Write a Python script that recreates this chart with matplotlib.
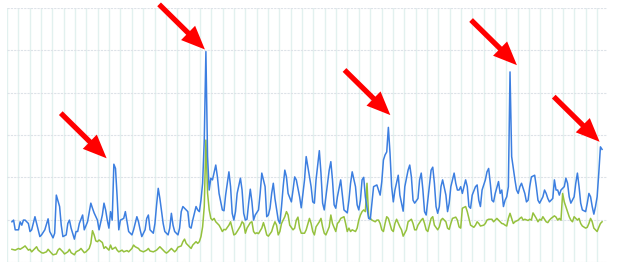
import matplotlib
matplotlib.use('Agg')
import matplotlib.pyplot as plt
import numpy as np

# daily series (day of year, value)
blue_days = [3, 4, 5, 7, 8, 9, 10, 11, 13, 14, 15, 17, 19, 20, 21, 23, 25, 26, 28, 29,
             30, 32, 33, 34, 36, 37, 38, 39, 41, 42, 43, 44, 46, 47, 49, 51, 52, 53, 55, 56,
             58, 59, 60, 61, 62, 63, 64, 65, 66, 67, 68, 69, 71, 72, 73, 74, 76, 77, 79, 80,
             81, 82, 84, 85, 86, 87, 89, 90, 91, 92, 93, 95, 96, 98, 99, 100, 101, 102, 104, 105,
             106, 107, 108, 110, 111, 112, 113, 115, 116, 117, 118, 119, 120, 121, 122, 123, 124, 125, 127, 128,
             129, 131, 132, 133, 135, 136, 137, 138, 139, 140, 142, 143, 144, 145, 146, 147, 148, 149, 150, 151,
             153, 154, 155, 157, 158, 159, 160, 161, 162, 163, 165, 166, 167, 168, 169, 170, 171, 173, 174, 175,
             176, 178, 179, 181, 182, 183, 185, 186, 187, 188, 190, 191, 192, 193, 194, 196, 197, 198, 199, 200,
             201, 203, 204, 205, 207, 208, 209, 210, 212, 213, 214, 215, 216, 217, 218, 220, 221, 222, 223, 225,
             226, 227, 228, 229, 230, 231, 232, 233, 234, 235, 236, 238, 239, 241, 242, 244, 245, 246, 247, 248,
             250, 251, 252, 253, 254, 255, 256, 258, 259, 260, 261, 262, 263, 264, 265, 267, 268, 269, 270, 272,
             273, 274, 275, 276, 277, 279, 280, 281, 282, 283, 285, 286, 287, 288, 289, 291, 292, 293, 294, 295,
             296, 297, 299, 300, 301, 302, 303, 304, 305, 306, 307, 309, 310, 311, 312, 313, 315, 316, 317, 318,
             319, 321, 322, 323, 324, 326, 327, 328, 329, 330, 332, 333, 334, 335, 336, 337, 339, 340, 341, 342,
             343, 345, 346, 347, 348, 349, 350, 352, 353, 354, 355, 356, 357, 358, 359, 360, 361, 362]
blue_vals = [95, 99, 76, 76, 95, 87, 99, 99, 91, 72, 76, 107, 76, 60, 64, 76, 102, 72, 57, 68,
             158, 131, 87, 60, 64, 91, 99, 80, 54, 72, 72, 91, 111, 76, 95, 139, 127, 116, 99, 76,
             111, 139, 123, 99, 80, 119, 99, 231, 221, 154, 76, 99, 103, 119, 95, 72, 64, 76, 107, 95,
             76, 60, 76, 103, 111, 76, 68, 91, 135, 174, 150, 91, 72, 64, 80, 115, 87, 72, 64, 80,
             119, 131, 127, 119, 83, 80, 99, 131, 123, 119, 146, 186, 288, 497, 249, 170, 198, 194, 229, 201,
             162, 123, 121, 158, 213, 178, 115, 99, 119, 162, 198, 170, 115, 99, 101, 139, 172, 142, 99, 111,
             123, 162, 210, 178, 107, 111, 127, 162, 186, 150, 99, 91, 131, 178, 217, 201, 162, 142, 170, 201,
             194, 154, 128, 194, 249, 225, 178, 142, 139, 194, 263, 210, 139, 123, 154, 217, 237, 194, 135, 127,
             154, 194, 158, 123, 116, 146, 186, 213, 178, 135, 123, 146, 194, 200, 154, 103, 101, 139, 178, 182,
             170, 158, 190, 241, 253, 260, 318, 257, 178, 142, 170, 205, 158, 120, 178, 217, 229, 201, 146, 139,
             150, 194, 210, 170, 119, 111, 146, 217, 224, 186, 131, 115, 131, 178, 194, 158, 119, 139, 178, 210,
             186, 170, 170, 178, 162, 194, 178, 131, 127, 158, 178, 182, 146, 131, 170, 194, 213, 221, 186, 146,
             142, 162, 190, 162, 170, 131, 146, 154, 178, 449, 249, 194, 170, 162, 178, 186, 162, 142, 146, 178,
             201, 205, 178, 146, 139, 154, 170, 162, 150, 142, 150, 194, 170, 170, 158, 170, 178, 198, 186, 154,
             139, 154, 186, 210, 178, 139, 123, 119, 139, 162, 154, 131, 113, 131, 154, 210, 272, 266]

green_days = [3, 5, 7, 8, 10, 11, 13, 14, 15, 17, 18, 19, 21, 22, 24, 25, 27, 28, 30, 31,
              32, 34, 35, 37, 38, 39, 41, 42, 44, 45, 47, 48, 50, 51, 52, 53, 54, 55, 56, 58,
              59, 60, 62, 63, 64, 66, 67, 68, 70, 71, 73, 74, 76, 77, 78, 80, 81, 83, 85, 86,
              87, 89, 91, 92, 93, 94, 96, 97, 98, 100, 101, 102, 103, 104, 106, 107, 108, 109, 111, 112,
              113, 115, 116, 117, 118, 119, 120, 121, 122, 123, 124, 125, 126, 127, 129, 130, 131, 132, 133, 135,
              136, 137, 138, 139, 140, 142, 143, 144, 145, 146, 148, 149, 150, 151, 152, 153, 155, 156, 157, 158,
              159, 161, 162, 163, 164, 165, 166, 167, 169, 170, 171, 172, 174, 175, 176, 177, 178, 179, 181, 182,
              184, 185, 186, 187, 188, 190, 191, 192, 193, 194, 196, 197, 198, 200, 201, 202, 203, 205, 206, 207,
              208, 209, 210, 212, 213, 214, 215, 216, 217, 218, 219, 220, 221, 222, 224, 225, 226, 227, 228, 229,
              230, 231, 232, 234, 235, 236, 237, 239, 240, 241, 243, 244, 246, 247, 248, 249, 250, 252, 253, 254,
              255, 256, 257, 258, 259, 260, 262, 263, 264, 265, 267, 268, 269, 270, 271, 273, 274, 275, 276, 277,
              279, 280, 281, 282, 284, 285, 286, 287, 288, 290, 291, 292, 293, 295, 296, 297, 298, 299, 301, 302,
              303, 304, 305, 306, 307, 308, 309, 311, 312, 313, 314, 315, 317, 318, 319, 320, 322, 323, 324, 325,
              326, 328, 329, 330, 331, 333, 334, 335, 336, 337, 338, 339, 341, 342, 343, 344, 345, 347, 348, 349,
              350, 352, 353, 354, 355, 356, 357, 359, 360, 361, 362]
green_vals = [30, 28, 32, 30, 35, 38, 28, 30, 24, 32, 36, 28, 22, 21, 24, 30, 21, 17, 19, 28,
              32, 24, 19, 24, 30, 22, 17, 24, 28, 32, 22, 24, 32, 44, 74, 64, 50, 48, 52, 46,
              32, 36, 28, 40, 30, 35, 28, 24, 28, 24, 27, 24, 32, 40, 36, 32, 27, 24, 28, 32,
              26, 24, 28, 32, 36, 32, 24, 21, 24, 32, 28, 24, 28, 35, 38, 48, 54, 44, 36, 32,
              40, 48, 44, 48, 60, 83, 131, 288, 163, 123, 103, 99, 103, 95, 87, 80, 72, 77, 76, 87,
              95, 80, 64, 66, 72, 85, 95, 91, 68, 80, 93, 95, 72, 67, 69, 67, 80, 93, 80, 64,
              61, 72, 85, 95, 87, 64, 72, 91, 107, 119, 111, 87, 76, 80, 99, 106, 80, 68, 68, 76,
              103, 91, 72, 64, 83, 95, 103, 83, 68, 64, 83, 111, 91, 72, 91, 95, 103, 107, 91, 72,
              80, 72, 76, 72, 80, 99, 111, 119, 123, 119, 186, 107, 103, 99, 95, 99, 99, 91, 76, 72,
              91, 107, 103, 76, 72, 91, 101, 83, 76, 61, 76, 95, 101, 91, 76, 76, 87, 99, 103, 91,
              76, 72, 87, 103, 107, 87, 76, 83, 99, 103, 95, 80, 77, 91, 103, 106, 99, 83, 80, 127,
              131, 119, 103, 87, 82, 87, 95, 91, 85, 87, 91, 99, 101, 101, 95, 99, 103, 99, 91, 90,
              87, 85, 103, 115, 103, 91, 95, 99, 103, 106, 99, 101, 98, 101, 99, 116, 103, 95, 101, 99,
              107, 95, 93, 99, 103, 109, 106, 99, 103, 99, 162, 142, 119, 107, 99, 95, 107, 99, 103, 91,
              85, 80, 82, 91, 103, 95, 80, 72, 82, 91, 95]

# where the red arrows point (day, value)
arrow_days = [60.6, 120.4, 233.2, 310.2, 360.5]
arrow_vals = [245, 502, 347, 465, 284]

fig = plt.figure(figsize=(6.17, 2.67), dpi=100)
ax = fig.add_axes([7 / 617, 5 / 267, 600 / 617, 254 / 267])
ax.set_xlim(0, 365)
ax.set_ylim(0, 600)
for s in ax.spines.values():
    s.set_visible(False)
ax.set_xticks(np.linspace(0, 359, 53))
ax.set_yticks(np.arange(0, 601, 100))
ax.tick_params(length=0, labelbottom=False, labelleft=False)
ax.set_axisbelow(True)
ax.xaxis.grid(True, color='#e2f1ef', lw=1)
ax.yaxis.grid(True, color='#dde2e8', lw=0.8, ls=(0, (2, 1)))

ax.plot(green_days, green_vals, color='#95c13d', lw=1.1)
ax.plot(blue_days, blue_vals, color='#3c7fe0', lw=1.1)

for d, v in zip(arrow_days, arrow_vals):
    ax.annotate('', xy=(d, v), xytext=(-33, 32.5), textcoords='offset points',
                annotation_clip=False,
                arrowprops=dict(arrowstyle='simple,head_length=0.85,head_width=0.72,tail_width=0.19',
                                fc='#ff0000', ec='none', lw=0, shrinkA=0, shrinkB=0,
                                mutation_scale=20))

fig.savefig('out.png', dpi=100)
